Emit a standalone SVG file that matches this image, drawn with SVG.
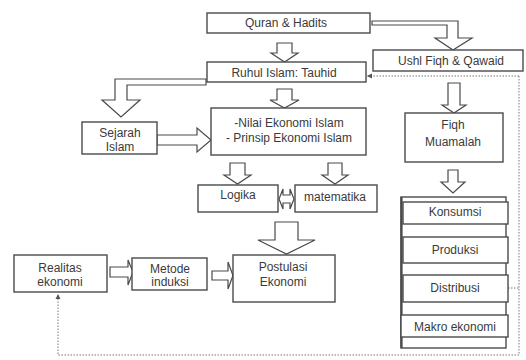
<svg xmlns="http://www.w3.org/2000/svg" width="526" height="360" viewBox="0 0 526 360">
<defs>
<style>
.box{fill:#fff;stroke:#4a4a4a;stroke-width:1.4}
.arr{fill:#fff;stroke:#4a4a4a;stroke-width:1.2;stroke-linejoin:miter}
.dot{fill:none;stroke:#777;stroke-width:1;stroke-dasharray:1.5 1.5}
text{font-family:"Liberation Sans",Arial,sans-serif;font-size:12px;fill:#3a3a3a;text-anchor:middle}
</style>
<marker id="ah" markerWidth="6" markerHeight="6" refX="5" refY="3" orient="auto" markerUnits="userSpaceOnUse">
<path d="M0,0.5 L5,3 L0,5.5 Z" fill="#555"/>
</marker>
</defs>
<rect width="526" height="360" fill="#fff"/>

<g id="connectors">
<path class="dot" d="M519,76 H519 V355 H58 V294" marker-end="url(#ah)"/>
<path class="dot" d="M519,76 H367" marker-end="url(#ah)"/>
<path class="dot" d="M508,288 H519"/>
<polygon class="arr" points="372,21 458,21 458,38 472,38 453,50 435,38 447,38 447,25 372,25"/>
<polygon class="arr" points="206,79 115,79 115,100 102,100 121,117 140,100 127,100 127,85 206,85"/>
<polygon class="arr" points="277,43 292,43 292,53 298,53 284.5,62 271,53 277,53"/>
<polygon class="arr" points="277,89 292,89 292,100 299,100 284.5,108 270,100 277,100"/>
<polygon class="arr" points="230,163 245,163 245,175 251,175 237.5,184 224,175 230,175"/>
<polygon class="arr" points="328,163 342,163 342,175 348,175 335,184 322,175 328,175"/>
<polygon class="arr" points="275,222 298,222 298,240 315,240 286.5,254 258,240 275,240"/>
<polygon class="arr" points="448,83 460,83 460,105 466,105 454,113 442,105 448,105"/>
<polygon class="arr" points="448,170 458,170 458,182 465,182 453,193 441,182 448,182"/>
<polygon class="arr" points="157,135 197,135 197,128 211,140 197,152 197,145 157,145"/>
<polygon class="arr" points="110,267 128,267 128,260 133,272 128,285 128,277 110,277"/>
<polygon class="arr" points="212,271 228,271 228,262 233,275.5 228,289 228,280 212,280"/>
<polygon class="arr" points="279,199 283,189 283,195 290,195 290,189 294,199 290,209 290,203 283,203 283,209"/>
</g>

<g id="quran"><rect class="box" x="207" y="13" width="163" height="20"/><text x="286" y="27">Quran &amp; Hadits</text></g>
<g id="ushl"><rect class="box" x="373" y="50" width="150" height="21"/><text x="451" y="65">Ushl Fiqh &amp; Qawaid</text></g>
<g id="ruhul"><rect class="box" x="207" y="62" width="159" height="20"/><text x="284" y="76.5">Ruhul Islam:  Tauhid</text></g>
<g id="sejarah"><rect class="box" x="82" y="122" width="75" height="32"/><text x="120" y="137">Sejarah</text><text x="120" y="151">Islam</text></g>
<g id="nilai"><rect class="box" x="211" y="108" width="155" height="47"/><text x="289" y="127">-Nilai Ekonomi Islam</text><text x="289" y="142">- Prinsip Ekonomi Islam</text></g>
<g id="logika"><rect class="box" x="198" y="185" width="80" height="27"/><text x="238" y="199">Logika</text></g>
<g id="matematika"><rect class="box" x="295" y="185" width="82" height="27"/><text x="335" y="201">matematika</text></g>
<g id="postulasi"><rect class="box" x="233" y="255" width="102" height="47"/><text x="283" y="271">Postulasi</text><text x="283" y="286">Ekonomi</text></g>
<g id="metode"><rect class="box" x="132" y="258" width="75" height="32"/><text x="170" y="273">Metode</text><text x="170" y="286">induksi</text></g>
<g id="realitas"><rect class="box" x="14" y="255" width="93" height="37"/><text x="60" y="272">Realitas</text><text x="60" y="286">ekonomi</text></g>
<g id="fiqh"><rect class="box" x="405" y="113" width="98" height="49"/><text x="453" y="129">Fiqh</text><text x="453" y="146">Muamalah</text></g>
<g id="stack">
<rect class="box" x="401" y="197" width="105" height="151"/>
<line x1="401.5" y1="197" x2="401.5" y2="348" stroke="#4a4a4a" stroke-width="2.2"/>
</g>
<g id="konsumsi"><rect class="box" x="403" y="202" width="105" height="22"/><text x="455" y="216">Konsumsi</text></g>
<g id="produksi"><rect class="box" x="403" y="237" width="105" height="26"/><text x="455" y="254">Produksi</text></g>
<g id="distribusi"><rect class="box" x="403" y="275" width="105" height="27"/><text x="455" y="292">Distribusi</text></g>
<g id="makro"><rect class="box" x="401" y="315" width="107" height="22"/><text x="455" y="331">Makro ekonomi</text></g>
</svg>
